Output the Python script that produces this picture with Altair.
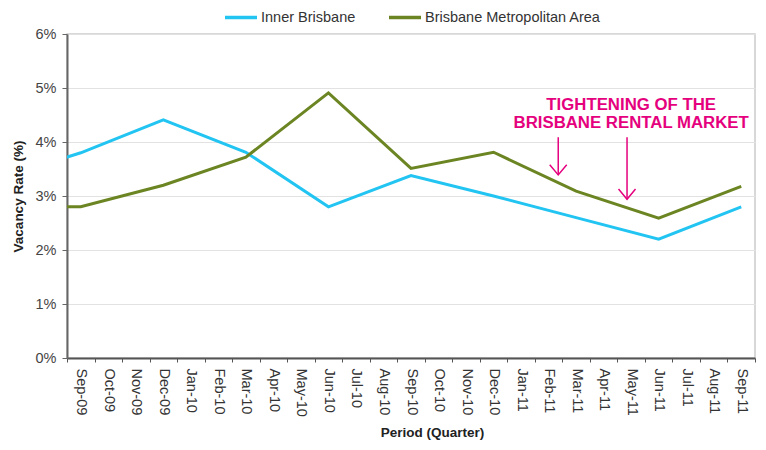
import altair as alt
import pandas as pd

# ---- data ----
months = ["Sep-09", "Oct-09", "Nov-09", "Dec-09", "Jan-10", "Feb-10", "Mar-10", "Apr-10",
          "May-10", "Jun-10", "Jul-10", "Aug-10", "Sep-10", "Oct-10", "Nov-10", "Dec-10",
          "Jan-11", "Feb-11", "Mar-11", "Apr-11", "May-11", "Jun-11", "Jul-11", "Aug-11", "Sep-11"]
quarters = ["Jun-09", "Sep-09", "Dec-09", "Mar-10", "Jun-10", "Sep-10", "Dec-10", "Mar-11", "Jun-11", "Sep-11"]
quarter_pos = [-3, 0, 3, 6, 9, 12, 15, 18, 21, 24]
inner_brisbane = [3.32, 3.80, 4.41, 3.81, 2.80, 3.38, 3.00, 2.60, 2.20, 2.80]
metro_area = [2.80, 2.80, 3.20, 3.72, 4.91, 3.51, 3.81, 3.09, 2.59, 3.18]
series_names = ["Inner Brisbane", "Brisbane Metropolitan Area"]
series_colors = ["#22C4F2", "#6C8523"]

note_lines = ["TIGHTENING OF THE", "BRISBANE RENTAL MARKET"]
note_pos = [20, 20]
note_rate = [4.69, 4.35]
arrow_pos = [17.35, 19.85]
arrow_top = [4.09, 4.09]
arrow_tip = [3.39, 2.94]

FONT = "Liberation Sans"
PINK = "#E5007E"

rows = []
for name, vals in zip(series_names, [inner_brisbane, metro_area]):
    for q, p, v in zip(quarters, quarter_pos, vals):
        rows.append({"series": name, "quarter": q, "pos": p, "rate": v})
df = pd.DataFrame(rows)
notes = pd.DataFrame({"text": note_lines, "pos": note_pos, "rate": note_rate})
arrows = pd.DataFrame({"pos": arrow_pos, "rate": arrow_top, "tip": arrow_tip})

label_js = "[" + ",".join("'" + m + "'" for m in months) + "]"
tick_vals = [i - 0.5 for i in range(len(months) + 1)]

W, H = 688, 324
step = W / len(months)

x_scale = alt.Scale(domain=[-0.5, len(months) - 0.5], nice=False, zero=False)
y_scale = alt.Scale(domain=[0, 6], nice=False, zero=True)

x_axis = alt.Axis(values=tick_vals,
                  labelExpr=label_js + "[round(datum.value + 0.5)] || ''",
                  labelOffset=step / 2, labelAngle=90, labelOverlap=False, labelFlush=False,
                  labelFontSize=14.5, labelColor="#333", labelPadding=6,
                  grid=False, tickSize=4, tickColor="#555", domainColor="#555", domainWidth=2,
                  title="Period (Quarter)", titleFontSize=13.5, titleFontWeight="bold",
                  titleColor="#222", titleX=365, titleY=74, titleBaseline="middle")
y_axis = alt.Axis(values=[0, 1, 2, 3, 4, 5, 6], labelExpr="datum.value + '%'",
                  labelFontSize=14.5, labelColor="#444", labelPadding=6,
                  grid=True, gridColor="#E2E2E2", gridWidth=1.2,
                  tickSize=5, tickColor="#666", domainColor="#666", domainWidth=2,
                  title="Vacancy Rate (%)", titleFontSize=13.5, titleFontWeight="bold",
                  titleColor="#222", titleX=-49, titleY=H / 2, titleBaseline="middle")

X = alt.X("pos:Q", scale=x_scale, axis=x_axis)
Y = alt.Y("rate:Q", scale=y_scale, axis=y_axis)

lines = alt.Chart(df).mark_line(clip=True, strokeWidth=3).encode(
    x=X, y=Y,
    color=alt.Color("series:N",
                    scale=alt.Scale(domain=series_names, range=series_colors),
                    sort=series_names,
                    legend=alt.Legend(orient="none", legendX=156, legendY=-34.5,
                                      direction="horizontal", title=None,
                                      symbolType="stroke", symbolSize=1024,
                                      symbolStrokeWidth=3.5, labelFontSize=14.5,
                                      labelLimit=400,
                                      labelColor="#333", labelOffset=2, columnPadding=26)),
    detail="series:N",
)

text = alt.Chart(notes).mark_text(font=FONT, fontSize=16.8, fontWeight="bold", color=PINK,
                                  align="center", baseline="middle").encode(
    x=X, y=Y, text="text:N")

shafts = alt.Chart(arrows).mark_rule(color=PINK, strokeWidth=1.5).encode(
    x=X, y=Y, y2="tip:Q")

heads = alt.Chart(arrows).mark_point(shape="M-1,-1.2L0,0L1,-1.2", filled=False, size=289,
                                     strokeWidth=1.5, color=PINK, opacity=1).encode(
    x=X, y=alt.Y("tip:Q", scale=y_scale, axis=y_axis))

chart = alt.layer(lines, text, shafts, heads).properties(
    width=W, height=H,
    autosize=alt.AutoSizeParams(type="none"),
    padding={"left": 59, "top": 26, "right": 2, "bottom": 84},
).configure(font=FONT).configure_view(stroke="#CCCCCC", strokeWidth=1.5)

chart.save("out.html", embed_options={"renderer": "svg", "actions": False})
